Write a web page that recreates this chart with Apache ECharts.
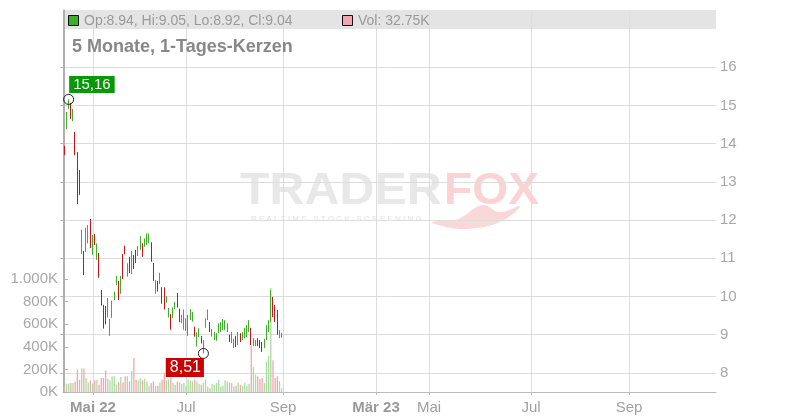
<!DOCTYPE html>
<html><head><meta charset="utf-8">
<script src="https://cdn.jsdelivr.net/npm/echarts@6.0.0/dist/echarts.min.js"></script>
<style>html,body{margin:0;padding:0;background:#fff}#c{width:800px;height:420px}</style>
</head><body><div id="c"></div>
<script>
// ---- data (daily candles, index = trading day) ----
const opens = [13.94,14.38,14.91,15.07,14.59,14.31,13.78,13.31,11.12,11.19,
11.17,11.39,12.03,11.09,11.63,10.96,11.14,10.17,9.78,9.75,
9.45,8.97,9.44,9.91,10.30,10.41,10.07,11.11,11.33,10.52,
11.04,10.59,11.09,11.22,11.06,11.22,11.39,11.30,11.35,11.39,
11.42,10.88,10.07,10.41,10.33,10.24,10.24,9.84,9.45,9.54,
9.43,9.67,10.09,9.68,9.30,9.13,9.10,8.97,9.38,9.34,
9.21,8.69,8.94,8.97,8.51,9.18,9.38,9.33,8.95,8.86,
8.84,9.04,9.07,9.12,9.12,9.07,9.00,8.78,8.65,8.97,
8.73,9.04,8.86,8.91,8.94,9.07,9.18,8.70,8.70,8.91,
8.86,8.81,8.65,8.86,9.07,9.33,9.99,9.78,9.65,8.91,
8.94];
const closes = [13.70,14.83,15.16,14.65,14.91,13.70,12.42,12.66,11.75,10.56,
11.80,11.87,11.27,11.61,11.35,11.39,10.49,9.76,9.16,9.27,
9.96,9.41,9.89,10.13,10.54,9.91,10.54,10.46,11.10,10.87,
10.61,11.19,10.72,10.88,11.32,11.58,11.04,11.52,11.65,11.65,
10.91,10.41,10.43,10.13,10.62,9.81,9.66,10.01,9.70,9.13,
9.71,9.86,9.71,9.33,9.52,9.66,9.43,9.52,9.67,9.60,
8.95,9.06,9.17,8.77,8.86,9.43,9.66,9.07,9.15,9.07,
9.04,9.30,9.33,9.41,9.38,9.30,8.81,9.07,8.89,8.68,
9.07,8.81,9.07,9.18,9.25,9.38,8.73,8.91,8.86,8.70,
8.65,8.55,8.89,9.25,9.38,10.17,9.46,9.33,9.00,9.12,
9.04];
const lows = [13.70,14.38,14.91,14.65,14.59,13.70,12.42,12.66,11.12,10.56,
11.17,11.39,11.27,11.09,11.35,10.96,10.49,9.76,9.16,9.27,
9.45,8.97,9.44,9.91,10.30,9.91,10.07,10.46,11.10,10.52,
10.61,10.59,10.72,10.88,11.06,11.22,11.04,11.30,11.35,11.39,
10.91,10.41,10.07,10.13,10.33,9.81,9.66,9.84,9.45,9.13,
9.43,9.67,9.71,9.33,9.30,9.13,9.10,8.97,9.38,9.34,
8.95,8.69,8.94,8.77,8.51,9.18,9.38,9.07,8.95,8.86,
8.84,9.04,9.07,9.12,9.12,9.07,8.81,8.78,8.65,8.68,
8.73,8.81,8.86,8.91,8.94,9.07,8.73,8.70,8.70,8.70,
8.65,8.55,8.65,8.86,9.07,9.33,9.46,9.33,9.00,8.91,
8.92];
const highs = [13.94,14.83,15.16,15.07,14.91,14.31,13.78,13.31,11.75,11.19,
11.80,11.87,12.03,11.61,11.63,11.39,11.14,10.17,9.78,9.75,
9.96,9.41,9.89,10.13,10.54,10.41,10.54,11.11,11.33,10.87,
11.04,11.19,11.09,11.22,11.32,11.58,11.39,11.52,11.65,11.65,
11.42,10.88,10.43,10.41,10.62,10.24,10.24,10.01,9.70,9.54,
9.71,9.86,10.09,9.68,9.52,9.66,9.43,9.52,9.67,9.60,
9.21,9.06,9.17,8.97,8.86,9.43,9.66,9.33,9.15,9.07,
9.04,9.30,9.33,9.41,9.38,9.30,9.00,9.07,8.89,8.97,
9.07,9.04,9.07,9.18,9.25,9.38,9.18,8.91,8.86,8.91,
8.86,8.81,8.89,9.25,9.38,10.17,9.99,9.78,9.65,9.12,
9.05];
// volume in thousands
const volumes = [48,73,73,79,79,94,200,109,209,209,
124,85,103,73,103,109,64,124,124,190,
118,103,139,139,64,85,133,85,139,139,
94,185,300,109,103,121,103,118,94,55,
79,94,55,55,85,109,170,103,109,124,
79,64,94,85,73,79,55,109,103,94,
109,94,73,64,79,109,48,33,73,64,
79,109,48,55,103,94,85,79,48,55,
79,64,55,79,55,73,410,220,155,140,
115,124,80,270,320,920,280,124,140,95,
32.75];
// x-axis ticks (trading-day index positions) and labels
const xTickPos = [13.2, 56, 100.6, 143.4, 167.8, 214.7, 259.8];
const xTickLabels = ['Mai 22','Jul','Sep','Mär 23','Mai','Jul','Sep'];
const xTickBold = [true,false,false,true,false,false,false];
const priceTicks = [8,9,10,11,12,13,14,15,16];
const volTicks = [0,200,400,600,800,1000];

const GREEN = '#3fae2a', RED = '#c0161c';
const VGREEN = '#a9dc9e', VRED = '#f2a6b0';
const FONT = '"Liberation Sans", Arial, sans-serif';

const candleData = opens.map((o,i)=>[i, o, closes[i], lows[i], highs[i]]);
const volData = volumes.map((v,i)=>({value:[i, v*1000], itemStyle:{color: closes[i]>=opens[i]?VGREEN:VRED}}));

let maxI = 0, minI = 0;
highs.forEach((h,i)=>{ if(h>highs[maxI]) maxI=i; });
lows.forEach((l,i)=>{ if(l<lows[minI]) minI=i; });
const fmtDE = v => v.toFixed(2).replace('.', ',');
const last = opens.length-1;

const chart = echarts.init(document.getElementById('c'), null, {renderer:'canvas'});
chart.setOption({
  animation:false,
  textStyle:{fontFamily:FONT},
  grid:{left:63, right:84, top:10, bottom:28, containLabel:false},
  xAxis:{
    type:'value', min:-0.6, max:299.8,
    axisLine:{show:true, lineStyle:{color:'#bbb', width:1}},
    axisTick:{show:true, customValues:xTickPos, length:3, lineStyle:{color:'#bbb'}},
    splitLine:{show:true, lineStyle:{color:'#ddd', width:1}},
    axisLabel:{
      customValues:xTickPos, margin:8, color:'#a0a0a0', fontSize:15, fontFamily:FONT,
      formatter:function(v){
        let k=0, d=1e9;
        xTickPos.forEach((p,i)=>{ if(Math.abs(p-v)<d){d=Math.abs(p-v);k=i;} });
        return xTickBold[k] ? '{b|'+xTickLabels[k]+'}' : xTickLabels[k];
      },
      rich:{b:{fontWeight:'bold', color:'#999', fontSize:15, fontFamily:FONT}}
    }
  },
  yAxis:[
    {type:'value', position:'right', min:7.5, max:17.5,
     axisLine:{show:true, lineStyle:{color:'#b0b0b0'}},
     axisTick:{show:true, inside:true, length:4, customValues:priceTicks, lineStyle:{color:'#b0b0b0'}},
     axisLabel:{customValues:priceTicks, margin:4, color:'#a8a8a8', fontSize:15, fontFamily:FONT},
     splitLine:{show:true, lineStyle:{color:'#ddd'}}},
    {type:'value', position:'left', min:0, max:3380000,
     axisLine:{show:true, lineStyle:{color:'#b0b0b0'}},
     axisTick:{show:true, inside:true, length:5, customValues:volTicks.map(v=>v*1000), lineStyle:{color:'#b0b0b0'}},
     axisLabel:{customValues:volTicks.map(v=>v*1000), margin:5, color:'#a8a8a8', fontSize:15, fontFamily:FONT,
       formatter:v=> (v>=1000000 ? (v/1000000)+'.'+String((v/1000)%1000).padStart(3,'0') : (v/1000))+'K'},
     splitLine:{show:false}}
  ],
  graphic:[
    {type:'rect', z:-10, shape:{x:63, y:10, width:653, height:19}, style:{fill:'#e4e4e4'}},
    {type:'rect', z:10, shape:{x:68.5, y:15.5, width:10, height:10}, style:{fill:GREEN, stroke:'#111', lineWidth:1}},
    {type:'text', z:10, x:84, y:21, style:{text:'Op:'+opens[last]+', Hi:'+highs[last]+', Lo:'+lows[last]+', Cl:'+closes[last], font:'14px '+FONT, fill:'#9a9a9a', verticalAlign:'middle'}},
    {type:'rect', z:10, shape:{x:342.5, y:15.5, width:10, height:10}, style:{fill:VRED, stroke:'#111', lineWidth:1}},
    {type:'text', z:10, x:358, y:21, style:{text:'Vol: '+volumes[last]+'K', font:'14px '+FONT, fill:'#9a9a9a', verticalAlign:'middle'}},
    {type:'text', z:10, x:72, y:47, style:{text:'5 Monate, 1-Tages-Kerzen', font:'bold 18px '+FONT, fill:'#888', verticalAlign:'middle'}},
    // watermark
    {type:'text', z:-5, x:240, y:192, scaleX:1.1, style:{text:'TRADER', font:'bold 44px '+FONT, fill:'#e8e8e8', verticalAlign:'middle'}},
    {type:'text', z:-5, x:444, y:192, scaleX:1.05, style:{text:'FOX', font:'bold 44px '+FONT, fill:'#fbd3d3', verticalAlign:'middle'}},
    {type:'text', z:-5, x:251, y:219, style:{text:'R E A L T I M E   S T O C K   S C R E E N I N G', font:'8px '+FONT, fill:'#e0e0e0', verticalAlign:'middle'}},
    {type:'polygon', z:-5, shape:{smooth:0.4, points:[[432,222],[458,219],[482,205],[500,212],[520,206],[500,222],[465,229],[442,226]]}, style:{fill:'#fbd8d8'}}
  ],
  series:[
    {type:'bar', name:'Vol', xAxisIndex:0, yAxisIndex:1, data:volData, barWidth:1.3, z:2},
    {type:'candlestick', name:'Kurs', xAxisIndex:0, yAxisIndex:0, barWidth:1, z:3,
     itemStyle:{color:GREEN, color0:RED, borderColor:GREEN, borderColor0:RED, borderWidth:1},
     data:candleData},
    {type:'scatter', xAxisIndex:0, yAxisIndex:0, z:5, symbol:'circle', symbolSize:10,
     itemStyle:{color:'rgba(255,255,255,0)', borderColor:'#222', borderWidth:1, opacity:1},
     data:[
       {value:[maxI, highs[maxI]], label:{show:true, opacity:1, formatter:fmtDE(highs[maxI]), position:[6,-18], backgroundColor:'#089808', color:'#fff', fontSize:15, padding:[1,4,1,4], fontFamily:FONT}},
       {value:[minI, lows[minI]], label:{show:true, opacity:1, formatter:fmtDE(lows[minI]), position:[6,10], align:'right', backgroundColor:'#cc0000', color:'#fff', fontSize:16, padding:[2,3,1,4], fontFamily:FONT}}
     ]}
  ]
});
</script></body></html>
